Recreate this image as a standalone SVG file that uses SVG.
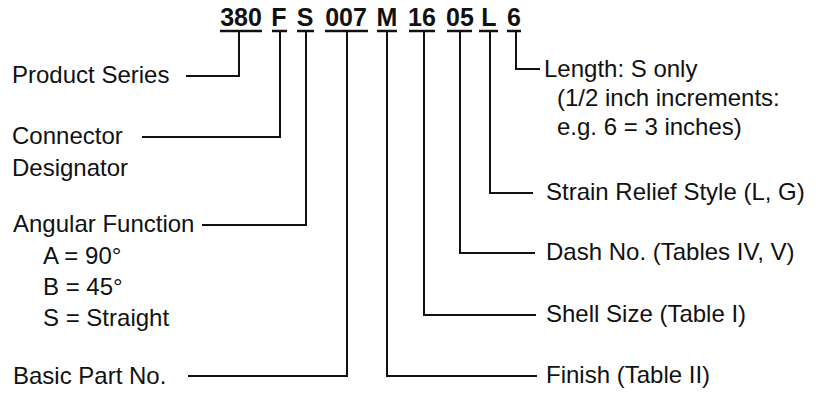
<svg xmlns="http://www.w3.org/2000/svg" width="823" height="393" viewBox="0 0 823 393">
<style>
.code{font-family:"Liberation Sans",Arial,sans-serif;font-weight:bold;font-size:25px;fill:#111;text-anchor:middle}
.lbl{font-family:"Liberation Sans",Arial,sans-serif;font-size:24px;fill:#111}
.ul{stroke:#111;stroke-width:2.5;fill:none}
.ln{stroke:#111;stroke-width:2;fill:none}
</style>
<rect width="823" height="393" fill="#fff"/>
<g id="code">
<text class="code" x="241" y="26">380</text>
<text class="code" x="279" y="26">F</text>
<text class="code" x="305" y="26">S</text>
<text class="code" x="346" y="26">007</text>
<text class="code" x="387" y="26">M</text>
<text class="code" x="422" y="26">16</text>
<text class="code" x="460" y="26">05</text>
<text class="code" x="489" y="26">L</text>
<text class="code" x="514" y="26">6</text>
<g class="ul">
<line x1="220" y1="31" x2="262" y2="31"/>
<line x1="272" y1="31" x2="287" y2="31"/>
<line x1="297" y1="31" x2="314" y2="31"/>
<line x1="325" y1="31" x2="368" y2="31"/>
<line x1="377" y1="31" x2="397" y2="31"/>
<line x1="409" y1="31" x2="435" y2="31"/>
<line x1="447" y1="31" x2="472" y2="31"/>
<line x1="479" y1="31" x2="498" y2="31"/>
<line x1="507" y1="31" x2="521" y2="31"/>
</g>
</g>
<g id="connectors" class="ln">
<polyline points="239,31 239,76 186,76"/>
<polyline points="280,31 280,137 142,137"/>
<polyline points="306,31 306,225 202,225"/>
<polyline points="347,31 347,376 188,376"/>
<polyline points="387,31 387,376 537,376"/>
<polyline points="424,31 424,315 536,315"/>
<polyline points="460,31 460,253 535,253"/>
<polyline points="490,31 490,193 533,193"/>
<polyline points="516,31 516,69 540,69"/>
</g>
<g id="product-series"><text class="lbl" x="12" y="83">Product Series</text></g>
<g id="connector-designator"><text class="lbl" x="12" y="144">Connector</text><text class="lbl" x="12" y="176">Designator</text></g>
<g id="angular-function"><text class="lbl" x="13" y="232">Angular Function</text><text class="lbl" x="43" y="264">A = 90°</text><text class="lbl" x="43" y="295">B = 45°</text><text class="lbl" x="43" y="326">S = Straight</text></g>
<g id="basic-part"><text class="lbl" x="13" y="384">Basic Part No.</text></g>
<g id="length"><text class="lbl" x="544" y="77">Length: S only</text><text class="lbl" x="557" y="106">(1/2 inch increments:</text><text class="lbl" x="557" y="135">e.g. 6 = 3 inches)</text></g>
<g id="strain-relief"><text class="lbl" x="546" y="200">Strain Relief Style (L, G)</text></g>
<g id="dash-no"><text class="lbl" x="546" y="260">Dash No. (Tables IV, V)</text></g>
<g id="shell-size"><text class="lbl" x="546" y="322">Shell Size (Table I)</text></g>
<g id="finish"><text class="lbl" x="546" y="383">Finish (Table II)</text></g>
</svg>
